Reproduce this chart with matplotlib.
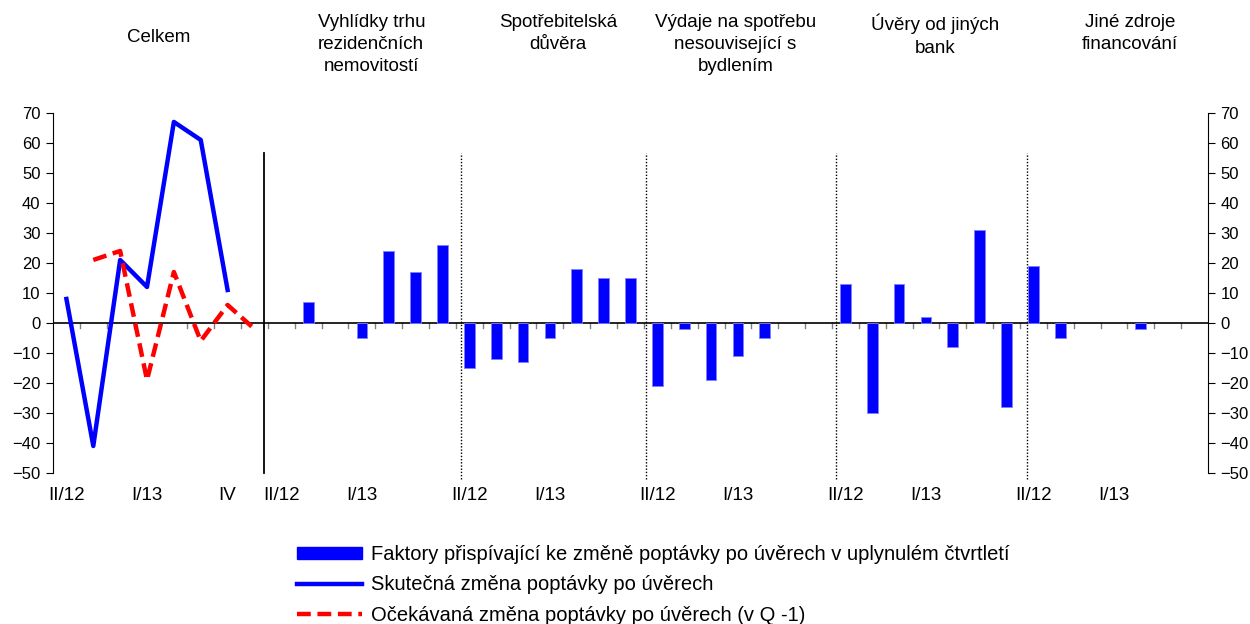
import matplotlib
matplotlib.use('Agg')
import matplotlib.pyplot as plt
from matplotlib.patches import Patch
from matplotlib.lines import Line2D
import numpy as np

plt.rcParams['font.family'] = ['Liberation Sans', 'DejaVu Sans']

# panel titles and their centre (in category units)
panels = ['Celkem', 'Vyhlídky trhu\nrezidenčních\nnemovitostí', 'Spotřebitelská\ndůvěra',
          'Výdaje na spotřebu\nnesouvisející s\nbydlením', 'Úvěry od jiných\nbank',
          'Jiné zdroje\nfinancování']
panel_x = [3.43, 11.35, 18.3, 24.9, 32.35, 39.6]

# "Celkem" lines (category 0..7)
actual = [8, -41, 21, 12, 67, 61, 11, None]
expected = [None, 21, 24, -19, 17, -6, 6, -2]

# factor bars, one list per panel (7 quarters each)
housing = [0, 7, 0, -5, 24, 17, 26]
confidence = [-15, -12, -13, -5, 18, 15, 15]
consumption = [-21, -2, -19, -11, -5, 0, 0]
other_banks = [13, -30, 13, 2, -8, 31, -28]
other_sources = [19, -5, 0, 0, -2, 0, 0]

tick_labels = {0: 'II/12', 3: 'I/13', 6: 'IV',
               8: 'II/12', 11: 'I/13', 15: 'II/12', 18: 'I/13',
               22: 'II/12', 25: 'I/13', 29: 'II/12', 32: 'I/13',
               36: 'II/12', 39: 'I/13'}
separators = [7.35, 14.7, 21.57, 28.66, 35.75]

n_cat = 43
fig = plt.figure(figsize=(12.5, 6.24), dpi=100)
ax = fig.add_axes([0.0424, 0.242, 0.9240, 0.577])

bars = np.array(housing + confidence + consumption + other_banks + other_sources, dtype=float)
bar_x = np.arange(8, 8 + len(bars))
nz = bars != 0
ax.bar(bar_x[nz], bars[nz], width=0.4, color='#0000ff', edgecolor='#8080ff', linewidth=0.6, zorder=3)

x = np.arange(8)
a = np.array([np.nan if v is None else v for v in actual], dtype=float)
e = np.array([np.nan if v is None else v for v in expected], dtype=float)
dash = (0, (3.1, 1.5))
ax.plot(x, a, color='#0000ff', lw=3.2, zorder=4)
ax.plot(x, e, color='#ff0000', lw=3.2, ls=dash, zorder=4)

# separators between panels
ax.plot([separators[0]] * 2, [-50, 56.7], color='black', lw=1.3, zorder=2, clip_on=False)
for s in separators[1:]:
    ax.plot([s, s], [-52, 56.7], color='black', lw=1, ls=(0, (1, 1.3)), zorder=2, clip_on=False)

ax.set_xlim(-0.5, n_cat - 0.5)
ax.set_ylim(-50, 70)
ax.set_yticks(range(-50, 71, 10))

for sp in ['top', 'bottom']:
    ax.spines[sp].set_visible(False)
ax.axhline(0, color='black', lw=1.2, zorder=2)
for b in np.arange(0.5, n_cat - 1, 1):
    ax.plot([b, b], [0, -1.7], color='#808080', lw=1, zorder=1)
ax.set_xticks([])

ax.tick_params(axis='y', which='both', left=True, right=True, labelleft=True,
               labelright=True, direction='out', length=5, labelsize=12, pad=4)

for k, lab in tick_labels.items():
    ax.text(k, -57.5, lab, ha='center', va='center', fontsize=13.5, clip_on=False)

for t, px in zip(panels, panel_x):
    fx = ax.transData.transform((px, 0))[0] / 1250
    if t == 'Celkem':
        fig.text(fx, 1 - 38 / 624, t, ha='center', va='center', fontsize=13.5)
    else:
        fig.text(fx, 1 - 14 / 624, t, ha='center', va='top', fontsize=13.5, linespacing=1.4)

handles = [Patch(facecolor='#0000ff', edgecolor='#0000ff'),
           Line2D([0], [0], color='#0000ff', lw=3.2),
           Line2D([0], [0], color='#ff0000', lw=3.2, ls=dash)]
labels = ['Faktory přispívající ke změně poptávky po úvěrech v uplynulém čtvrtletí',
          'Skutečná změna poptávky po úvěrech',
          'Očekávaná změna poptávky po úvěrech (v Q -1)']
fig.legend(handles, labels, loc='upper left', bbox_to_anchor=(0.2376, 0.127),
           frameon=False, fontsize=14.5, handlelength=3.25, handleheight=0.55,
           handletextpad=0.4, labelspacing=0.57, borderpad=0, borderaxespad=0)

fig.savefig('out.png', dpi=100)
